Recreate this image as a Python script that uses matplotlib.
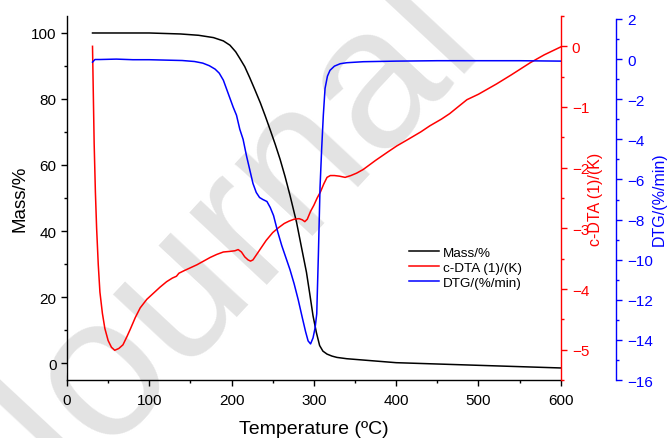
import matplotlib
matplotlib.use("Agg")
import matplotlib.pyplot as plt
from matplotlib.ticker import MultipleLocator

plt.rcParams['font.family'] = ['Liberation Sans', 'DejaVu Sans']

# TG curve (mass %)
T_mass = [31, 100, 138, 160, 178, 190, 198, 205, 210, 216, 222, 228, 235, 241, 247,
          253, 259, 265, 271, 279, 285, 291, 295, 299, 303, 307, 311, 316, 322, 328,
          340, 360, 380, 400, 450, 500, 550, 600]
mass = [100, 100, 99.7, 99.3, 98.6, 97.6, 96.3, 94.3, 92.3, 89.8, 86.5, 83.0, 78.8, 74.8, 70.6,
        66.3, 61.7, 56.5, 50.8, 42.6, 35.0, 27.5, 21.0, 14.3, 9.3, 5.3, 3.6, 2.7, 2.1, 1.7,
        1.3, 0.9, 0.5, 0.1, -0.3, -0.7, -1.1, -1.5]

# c-DTA curve
T_dta = [31, 32, 33, 34.5, 36, 38, 40, 43, 46, 50, 54, 58, 63, 68, 73, 77, 83, 89, 97, 105,
         113, 121, 128, 133, 136, 142, 150, 158, 166, 174, 182, 190, 198, 204, 208, 212, 216,
         220, 223, 226, 230, 235, 242, 250, 257, 264, 270, 276, 282, 286, 289, 292, 296, 300,
         304, 308, 312, 316, 320, 325, 331, 338, 345, 352, 360, 375, 390, 401, 415, 430, 441,
         455, 465, 475, 486, 500, 522, 540, 563, 580, 600]
dta = [0.0, -0.8, -1.6, -2.4, -3.0, -3.6, -4.05, -4.4, -4.65, -4.85, -4.96, -5.01, -4.98, -4.92,
       -4.78, -4.66, -4.47, -4.31, -4.17, -4.07, -3.97, -3.88, -3.82, -3.79, -3.74, -3.70, -3.65,
       -3.60, -3.54, -3.48, -3.43, -3.39, -3.38, -3.37, -3.35, -3.39, -3.47, -3.52, -3.54, -3.52,
       -3.44, -3.34, -3.20, -3.07, -2.99, -2.92, -2.88, -2.85, -2.84, -2.86, -2.89, -2.85, -2.72,
       -2.62, -2.50, -2.40, -2.27, -2.16, -2.13, -2.13, -2.14, -2.16, -2.13, -2.09, -2.03, -1.88,
       -1.74, -1.64, -1.53, -1.41, -1.31, -1.20, -1.11, -1.00, -0.88, -0.79, -0.62, -0.47, -0.27,
       -0.14, -0.01]

# DTG curve
T_dtg = [31, 34, 40, 60, 80, 100, 120, 140, 155, 165, 173, 180, 185, 190, 194, 198, 202, 206,
         210, 214, 218, 222, 226, 230, 234, 238, 243, 247, 251, 256, 261, 266, 271, 276, 281,
         286, 290, 293, 296, 299, 301.5, 303.5, 305.5, 307.5, 309.5, 311.5, 313.6, 316.5, 319.6,
         325, 332, 340, 360, 400, 450, 500, 550, 600]
dtg = [-0.15, -0.02, -0.02, 0.0, -0.03, -0.03, -0.05, -0.07, -0.12, -0.2, -0.33, -0.5, -0.7,
       -1.05, -1.5, -1.95, -2.4, -2.8, -3.5, -4.0, -4.8, -5.5, -6.2, -6.65, -6.9, -7.0, -7.1,
       -7.4, -7.8, -8.6, -9.3, -9.9, -10.5, -11.2, -12.0, -12.9, -13.6, -14.05, -14.2, -13.9,
       -13.4, -12.7, -9.75, -6.4, -4.46, -2.8, -1.46, -0.85, -0.56, -0.35, -0.23, -0.18, -0.13,
       -0.1, -0.08, -0.08, -0.08, -0.1]

fig = plt.figure(figsize=(6.68, 4.39), dpi=100)

# watermark
fig.text(0.058, -0.207, 'Journal Pre-proof', fontsize=144, rotation=47, rotation_mode='anchor',
         ha='left', va='baseline', color='#e3e3e3', zorder=-1)

ax = fig.add_axes([0.1003, 0.1321, 0.7391, 0.8292])
ax2 = ax.twinx()
ax3 = ax.twinx()
for a in (ax, ax2, ax3):
    a.patch.set_visible(False)

l1, = ax.plot(T_mass, mass, color='black', lw=1.1, label='Mass/%')
l2, = ax2.plot(T_dta, dta, color='#ff0000', lw=1.1, label='c-DTA (1)/(K)')
l3, = ax3.plot(T_dtg, dtg, color='#0000ff', lw=1.1, label='DTG/(%/min)')

ax.set_xlim(0, 600)
ax.set_ylim(-5.15, 105.15)
ax2.set_ylim(-5.5, 0.5)
ax3.set_ylim(-16, 2.15)

ax.xaxis.set_major_locator(MultipleLocator(100))
ax.xaxis.set_minor_locator(MultipleLocator(50))
ax.yaxis.set_major_locator(MultipleLocator(20))
ax.yaxis.set_minor_locator(MultipleLocator(10))
ax2.yaxis.set_major_locator(MultipleLocator(1))
ax2.yaxis.set_minor_locator(MultipleLocator(0.5))
ax3.yaxis.set_major_locator(MultipleLocator(2))
ax3.yaxis.set_minor_locator(MultipleLocator(1))

ax.spines['top'].set_visible(False)
ax.spines['right'].set_visible(False)
for a in (ax2, ax3):
    for s in ('left', 'top', 'bottom'):
        a.spines[s].set_visible(False)
ax2.spines['right'].set_color('#ff0000')
ax3.spines['right'].set_color('#0000ff')
ax3.spines['right'].set_position(('outward', 40))
ax3.spines['right'].set_bounds(-16, 2)
for a in (ax, ax2, ax3):
    for s in a.spines.values():
        s.set_linewidth(1.0)

ax.tick_params(which='both', direction='out', width=1.0, labelsize=11, top=False, right=False)
ax.tick_params(which='major', length=4.5)
ax.tick_params(which='minor', length=2.5)
ax.tick_params(axis='x', pad=4.5)
ax.tick_params(axis='y', pad=3)
ax2.tick_params(axis='y', which='both', direction='out', width=1.0, colors='#ff0000', labelsize=11, pad=3.5)
ax2.tick_params(axis='y', which='major', length=4.5)
ax2.tick_params(axis='y', which='minor', length=2.5)
ax3.tick_params(axis='y', which='both', direction='out', width=1.0, colors='#0000ff', labelsize=11, pad=3.5)
ax3.tick_params(axis='y', which='major', length=4.5)
ax3.tick_params(axis='y', which='minor', length=2.5)

ax.set_xlabel('Temperature (ºC)', fontsize=14, labelpad=10)
ax.set_ylabel('Mass/%', fontsize=13.5, labelpad=2)
ax2.set_ylabel('c-DTA (1)/(K)', fontsize=11.5, color='#ff0000', labelpad=-1)
ax3.set_ylabel('DTG/(%/min)', fontsize=11.5, color='#0000ff', labelpad=-1)

ax3.legend(handles=[l1, l2, l3], loc='upper left', bbox_to_anchor=(0.668, 0.4),
           frameon=False, fontsize=9.7, handlelength=2.2, handletextpad=0.3,
           labelspacing=0.2, borderpad=0.4)

fig.savefig('out.png', dpi=100)
